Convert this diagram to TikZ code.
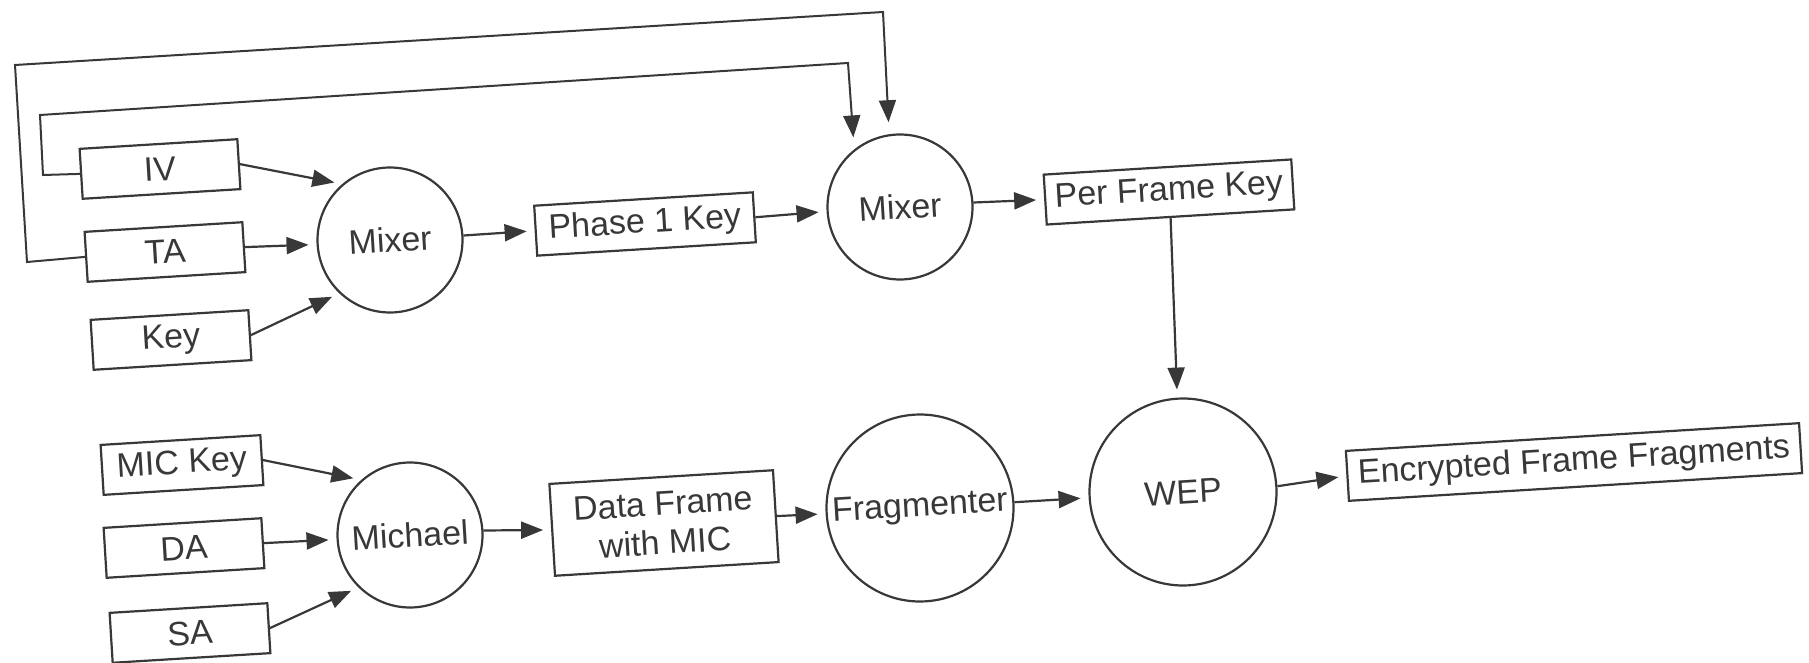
\documentclass[tikz,border=0pt]{standalone}
\usepackage{fontspec}
\setmainfont{Liberation Sans}
\usetikzlibrary{arrows.meta}
\definecolor{ink}{HTML}{383838}
\begin{document}
\begin{tikzpicture}[x=0.5pt,y=-0.5pt,
  inkline/.style={draw=ink, line width=1.1pt},
  lbl/.style={text=ink, font=\fontsize{17}{19.5}\selectfont},
  box/.style={inkline, lbl, rectangle, minimum width=79pt, minimum height=25pt,
              inner sep=0pt, rotate=3.5},
  proc/.style={inkline, lbl, circle, minimum size=72.5pt, inner sep=0pt, rotate=3.5},
  bigproc/.style={proc, minimum size=93.5pt},
  flow/.style={inkline, -{Triangle[length=11pt,width=8.5pt]}, shorten >=4pt},
  feedback/.style={flow, line width=1pt, shorten >=6pt}
]
\useasboundingbox (0,0) rectangle (1809,663);

% key mixing, first phase
\node[box] (iv)  at (160,169) {IV};
\node[box] (ta)  at (165,252) {TA};
\node[box] (key) at (171,340) {Key};
\node[proc] (mix1) at (390,240) {Mixer};
\node[box, minimum width=109.5pt] (ph1) at (645,224) {Phase 1 Key};

% key mixing, second phase
\node[proc] (mix2) at (900,207) {Mixer};
\node[box, minimum width=124pt] (pfk) at (1169,192) {Per Frame Key};

% integrity and encryption
\node[box, minimum width=80pt] (mic) at (182,465) {MIC Key};
\node[box] (da) at (184,548) {DA};
\node[box] (sa) at (190,633) {SA};
\node[proc] (mich) at (410,535) {Michael};
\node[box, minimum width=112pt, minimum height=46pt, align=center] (dfm) at (664,523) {Data Frame\\with MIC};
\node[bigproc] (frag) at (920,508) {Fragmenter};
\node[bigproc] (wep) at (1183,492) {WEP};
\node[box, minimum width=227pt] (eff) at (1574,462) {Encrypted Frame Fragments};

% bends of the two feedback lines
\coordinate (o1) at (27,262);
\coordinate (o2) at (15,65);
\coordinate (o3) at (883,12);
\coordinate (i1) at (43,175);
\coordinate (i2) at (40,115);
\coordinate (i3) at (848,63);

\draw[feedback] (ta.west) -- (o1) -- (o2) -- (o3) -- (mix2.95);
\draw[feedback] (iv.west) -- (i1) -- (i2) -- (i3) -- (mix2.125);

\draw[flow] (iv.east)  -- (mix1.127);
\draw[flow] (ta.east)  -- (mix1.west);
\draw[flow] (key.east) -- (mix1.223);
\draw[flow] (mix1.east) -- (ph1.west);
\draw[flow] (ph1.east) -- (mix2.west);
\draw[flow] (mix2.east) -- (pfk.west);
\draw[flow] (pfk.south) -- (wep.north);

\draw[flow] (mic.east) -- (mich.128);
\draw[flow] (da.east)  -- (mich.west);
\draw[flow] (sa.east)  -- (mich.222);
\draw[flow] (mich.east) -- (dfm.west);
\draw[flow] (dfm.east) -- (frag.west);
\draw[flow] (frag.east) -- (wep.west);
\draw[flow] (wep.east) -- (eff.west);
\end{tikzpicture}
\end{document}
